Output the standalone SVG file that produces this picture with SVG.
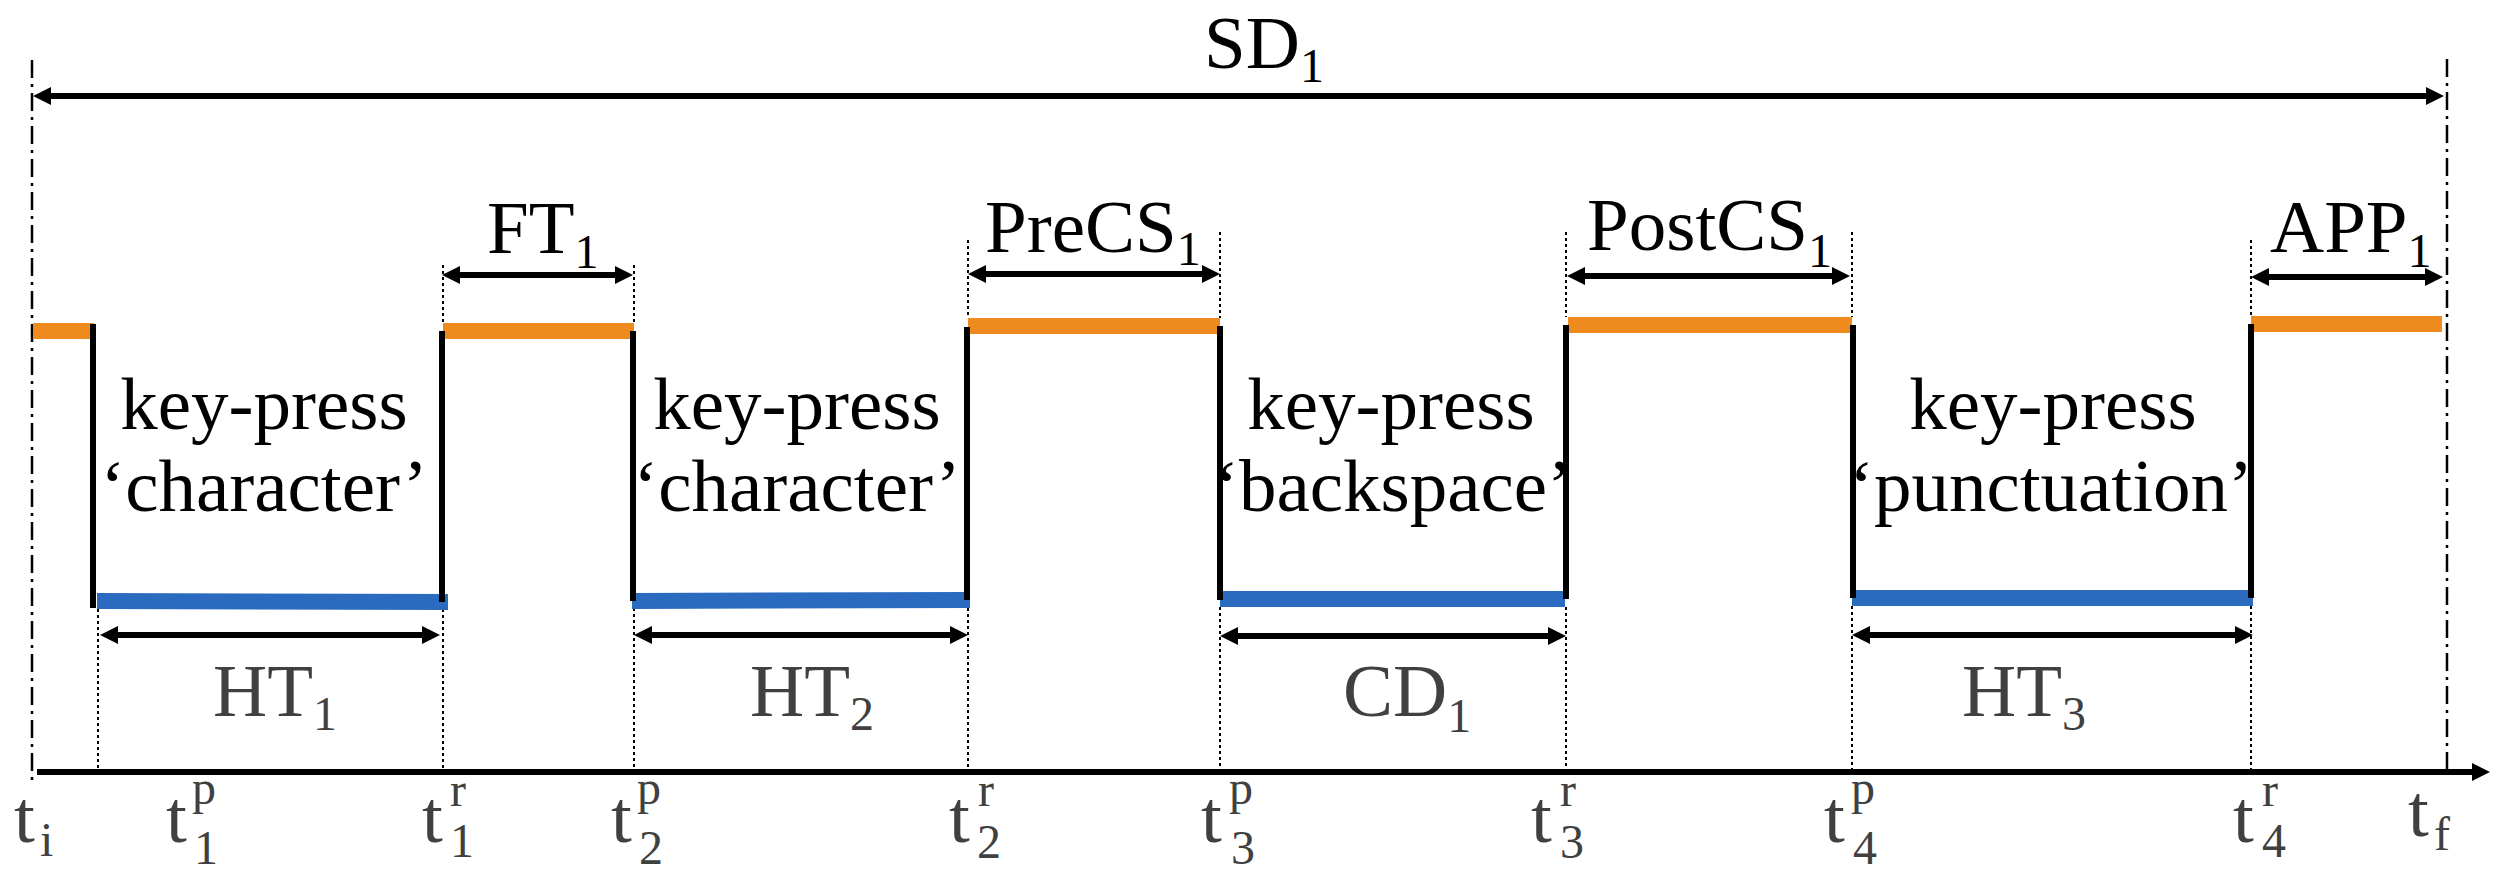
<svg xmlns="http://www.w3.org/2000/svg" width="2496" height="878" viewBox="0 0 2496 878">
<style>
text{font-family:"Liberation Serif","Times New Roman",serif;font-size:75px}
.top{fill:#000}
.bot{fill:#404040}
.sub{font-size:48px}
.or{stroke:#EF8A1E;stroke-width:16;fill:none}
.bl{stroke:#2A6BC0;stroke-width:16;fill:none}
.st{stroke:#000;stroke-width:6;fill:none}
.dot{stroke:#000;stroke-width:2;stroke-dasharray:3 3;fill:none}
.dd{stroke:#000;stroke-width:2.5;stroke-dasharray:18 6 3 6;fill:none}
.ar{stroke:#000;stroke-width:6;fill:none;marker-start:url(#ah);marker-end:url(#ah)}
</style>
<defs>
<marker id="ah" markerUnits="userSpaceOnUse" markerWidth="18" markerHeight="18" refX="6" refY="9" orient="auto-start-reverse" viewBox="0 0 18 18"><path d="M0,0 L18,9 L0,18 z" fill="#000"/></marker>
</defs>
<rect width="2496" height="878" fill="#fff"/>
<g id="guides">
<line class="dd" x1="32" y1="60" x2="32" y2="785"/>
<line class="dd" x1="2447" y1="59" x2="2447" y2="772"/>
<path class="dot" d="M443,265V323 M634,265V323 M968,240V318 M1220,232V318 M1566,232V317 M1852,232V317 M2251,240V316 M98,609V770 M443,609V770 M634,608V770 M968,608V770 M1220,607V770 M1566,607V770 M1852,606V770 M2251,606V770"/>
</g>
<g id="signal">
<line class="or" x1="33" y1="331" x2="94" y2="331"/>
<line class="or" x1="443" y1="331" x2="634" y2="331"/>
<line class="or" x1="968" y1="326" x2="1220" y2="326"/>
<line class="or" x1="1568" y1="325" x2="1852" y2="325"/>
<line class="or" x1="2251" y1="324" x2="2442" y2="324"/>
<line class="bl" x1="97" y1="601" x2="448" y2="602"/>
<line class="bl" x1="632" y1="601" x2="970" y2="600"/>
<line class="bl" x1="1220" y1="599" x2="1565" y2="599"/>
<line class="bl" x1="1852" y1="598" x2="2253" y2="598"/>
<path class="st" d="M93,324V608 M442,331V602 M633,331V601 M967,327V600 M1220,326V600 M1566,325V599 M1853,325V598 M2251,324V598"/>
</g>
<g id="connectors">
<line class="ar" x1="45" y1="96" x2="2432" y2="96"/>
<line class="ar" x1="454" y1="275" x2="621" y2="275"/>
<line class="ar" x1="980" y1="274" x2="1208" y2="274"/>
<line class="ar" x1="1579" y1="276" x2="1838" y2="276"/>
<line class="ar" x1="2263" y1="277" x2="2431" y2="277"/>
<line class="ar" x1="112" y1="635" x2="428" y2="635"/>
<line class="ar" x1="646" y1="635" x2="956" y2="635"/>
<line class="ar" x1="1232" y1="636" x2="1554" y2="636"/>
<line class="ar" x1="1864" y1="635" x2="2241" y2="635"/>
<line class="st" x1="37" y1="772" x2="2478" y2="772" marker-end="url(#ah)"/>
</g>
<g id="sd1"><text class="top" x="1204" y="68">SD<tspan class="sub" dy="14">1</tspan></text></g>
<g id="ft1"><text class="top" x="487" y="253">FT<tspan class="sub" dy="15">1</tspan></text></g>
<g id="precs1"><text class="top" x="985" y="252">PreCS<tspan class="sub" dy="13">1</tspan></text></g>
<g id="postcs1"><text class="top" x="1587" y="250">PostCS<tspan class="sub" dy="17">1</tspan></text></g>
<g id="app1"><text class="top" x="2270" y="252">APP<tspan class="sub" dy="15">1</tspan></text></g>
<g id="kp1"><text class="top" text-anchor="middle" x="264" y="429">key-press</text><text class="top" text-anchor="middle" x="264" y="511">‘character’</text></g>
<g id="kp2"><text class="top" text-anchor="middle" x="797" y="429">key-press</text><text class="top" text-anchor="middle" x="797" y="511">‘character’</text></g>
<g id="kp3"><text class="top" text-anchor="middle" x="1391" y="429">key-press</text><text class="top" text-anchor="middle" x="1393" y="511">‘backspace’</text></g>
<g id="kp4"><text class="top" text-anchor="middle" x="2053" y="429">key-press</text><text class="top" text-anchor="middle" x="2051" y="511">‘punctuation’</text></g>
<g id="ht1"><text class="bot" x="213" y="716">HT<tspan class="sub" dy="14">1</tspan></text></g>
<g id="ht2"><text class="bot" x="750" y="716">HT<tspan class="sub" dy="14">2</tspan></text></g>
<g id="cd1"><text class="bot" x="1343" y="716">CD<tspan class="sub" dy="16">1</tspan></text></g>
<g id="ht3"><text class="bot" x="1962" y="716">HT<tspan class="sub" dy="14">3</tspan></text></g>
<g id="ti"><text class="bot" x="14" y="842">t<tspan class="sub" x="40" y="856">i</tspan></text></g>
<g id="t1p"><text class="bot" x="166" y="842">t<tspan class="sub" x="192" y="804">p</tspan><tspan class="sub" x="194" y="864">1</tspan></text></g>
<g id="t1r"><text class="bot" x="422" y="842">t<tspan class="sub" x="450" y="806">r</tspan><tspan class="sub" x="450" y="857">1</tspan></text></g>
<g id="t2p"><text class="bot" x="611" y="842">t<tspan class="sub" x="637" y="804">p</tspan><tspan class="sub" x="639" y="864">2</tspan></text></g>
<g id="t2r"><text class="bot" x="949" y="842">t<tspan class="sub" x="978" y="806">r</tspan><tspan class="sub" x="977" y="858">2</tspan></text></g>
<g id="t3p"><text class="bot" x="1201" y="842">t<tspan class="sub" x="1229" y="804">p</tspan><tspan class="sub" x="1231" y="864">3</tspan></text></g>
<g id="t3r"><text class="bot" x="1531" y="842">t<tspan class="sub" x="1560" y="806">r</tspan><tspan class="sub" x="1560" y="858">3</tspan></text></g>
<g id="t4p"><text class="bot" x="1824" y="842">t<tspan class="sub" x="1851" y="804">p</tspan><tspan class="sub" x="1853" y="864">4</tspan></text></g>
<g id="t4r"><text class="bot" x="2233" y="842">t<tspan class="sub" x="2262" y="806">r</tspan><tspan class="sub" x="2262" y="857">4</tspan></text></g>
<g id="tf"><text class="bot" x="2408" y="836">t<tspan class="sub" x="2434" y="850">f</tspan></text></g>
</svg>
